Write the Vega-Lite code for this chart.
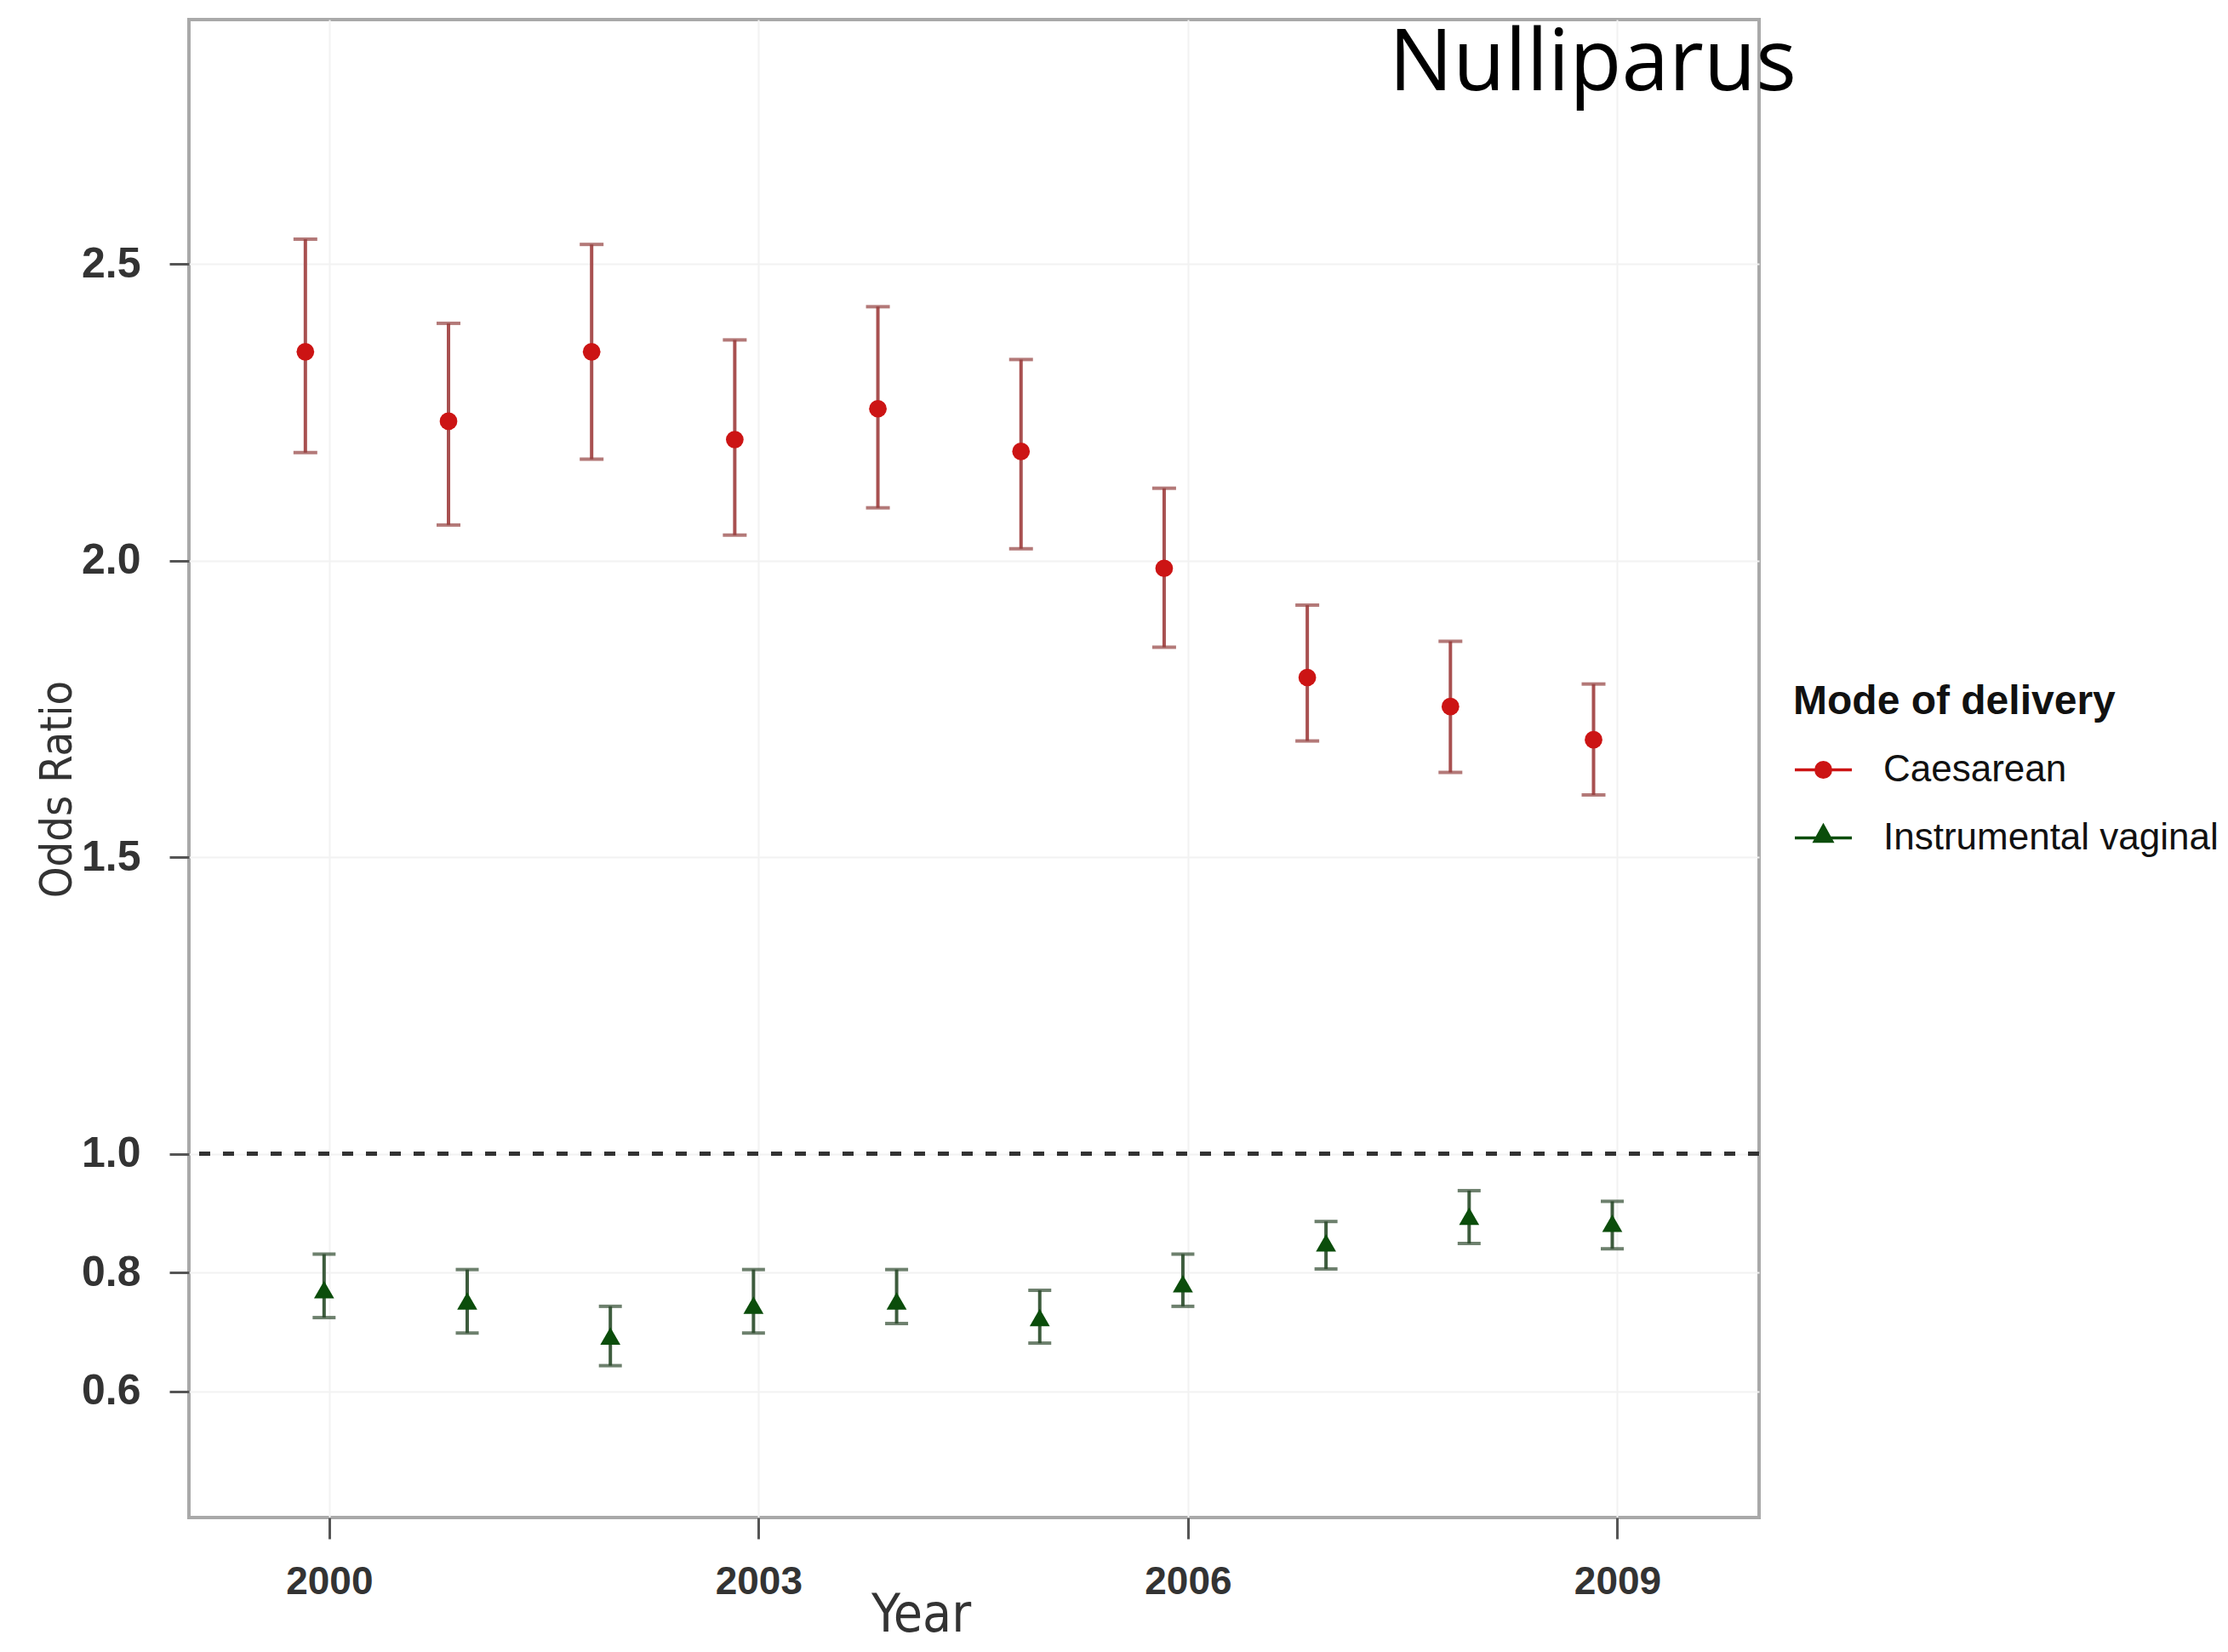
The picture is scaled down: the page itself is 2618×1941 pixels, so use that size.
{
  "$schema": "https://vega.github.io/schema/vega-lite/v6.json",
  "autosize": {"type": "none"},
  "width": 1845,
  "height": 1760,
  "padding": {"left": 222, "top": 23, "right": 551, "bottom": 158},
  "background": "white",
  "title": {"text": "Nulliparus", "anchor": "start", "frame": "group", "dx": 1410, "dy": 183, "offset": 0, "baseline": "alphabetic", "font": "Open Sans", "fontSize": 100, "fontWeight": "normal", "color": "#000000"},
  "config": {
    "view": {"stroke": "#a9a9a9", "strokeWidth": 4},
    "axis": {"domain": false, "grid": true, "gridColor": "#f2f2f2", "gridWidth": 2, "tickColor": "#555555", "tickWidth": 3}
  },
  "data": {"values": [
    {"year": 2000, "series": "Caesarean", "or": 2.352, "lo": 2.182, "hi": 2.542},
    {"year": 2001, "series": "Caesarean", "or": 2.235, "lo": 2.060, "hi": 2.400},
    {"year": 2002, "series": "Caesarean", "or": 2.352, "lo": 2.171, "hi": 2.533},
    {"year": 2003, "series": "Caesarean", "or": 2.204, "lo": 2.043, "hi": 2.372},
    {"year": 2004, "series": "Caesarean", "or": 2.256, "lo": 2.089, "hi": 2.428},
    {"year": 2005, "series": "Caesarean", "or": 2.184, "lo": 2.020, "hi": 2.339},
    {"year": 2006, "series": "Caesarean", "or": 1.987, "lo": 1.854, "hi": 2.122},
    {"year": 2007, "series": "Caesarean", "or": 1.803, "lo": 1.696, "hi": 1.925},
    {"year": 2008, "series": "Caesarean", "or": 1.754, "lo": 1.643, "hi": 1.864},
    {"year": 2009, "series": "Caesarean", "or": 1.698, "lo": 1.605, "hi": 1.792},
    {"year": 2000, "series": "Instrumental vaginal", "or": 0.771, "lo": 0.724, "hi": 0.831},
    {"year": 2001, "series": "Instrumental vaginal", "or": 0.752, "lo": 0.698, "hi": 0.805},
    {"year": 2002, "series": "Instrumental vaginal", "or": 0.693, "lo": 0.643, "hi": 0.743},
    {"year": 2003, "series": "Instrumental vaginal", "or": 0.745, "lo": 0.698, "hi": 0.805},
    {"year": 2004, "series": "Instrumental vaginal", "or": 0.752, "lo": 0.714, "hi": 0.805},
    {"year": 2005, "series": "Instrumental vaginal", "or": 0.724, "lo": 0.681, "hi": 0.770},
    {"year": 2006, "series": "Instrumental vaginal", "or": 0.781, "lo": 0.743, "hi": 0.831},
    {"year": 2007, "series": "Instrumental vaginal", "or": 0.850, "lo": 0.806, "hi": 0.886},
    {"year": 2008, "series": "Instrumental vaginal", "or": 0.895, "lo": 0.849, "hi": 0.938},
    {"year": 2009, "series": "Instrumental vaginal", "or": 0.883, "lo": 0.840, "hi": 0.920}
  ]},
  "encoding": {
    "x": {"field": "year", "type": "quantitative",
      "scale": {"domain": [1999.02, 2009.99], "nice": false, "zero": false},
      "axis": {"title": "Year", "values": [2000, 2003, 2006, 2009], "format": "d", "tickSize": 25,
        "labelFont": "Liberation Sans", "labelFontWeight": "bold", "labelFontSize": 46, "labelColor": "#333333", "labelBaseline": "middle", "labelPadding": 50,
        "titleFont": "Liberation Sans Narrow, DejaVu Sans Condensed, Liberation Sans", "titleFontWeight": "normal", "titleFontSize": 62, "titleColor": "#333333", "titleX": 860, "titleY": 114, "titleBaseline": "middle", "titleAlign": "center"}}
  },
  "layer": [
    {
      "transform": [{"filter": "datum.series === 'Caesarean'"}],
      "mark": {"type": "rule", "color": "#a85050", "strokeWidth": 4, "xOffset": -28},
      "encoding": {
        "y": {"field": "lo", "type": "quantitative",
          "scale": {"domain": [0.387, 2.912], "nice": false, "zero": false},
          "axis": {"title": "Odds Ratio", "values": [0.6, 0.8, 1.0, 1.5, 2.0, 2.5], "format": ".1f", "tickSize": 23,
            "labelFont": "Liberation Sans", "labelFontWeight": "bold", "labelFontSize": 50, "labelColor": "#333333", "labelBaseline": "middle", "labelPadding": 34,
            "titleFont": "Liberation Sans Narrow, DejaVu Sans Condensed, Liberation Sans", "titleFontWeight": "normal", "titleFontSize": 52, "titleColor": "#333333", "titleX": -155, "titleY": 904, "titleAngle": -90, "titleBaseline": "middle", "titleAlign": "center"}},
        "y2": {"field": "hi"}
      }
    },
    {
      "transform": [{"filter": "datum.series === 'Caesarean'"}],
      "mark": {"type": "tick", "orient": "horizontal", "color": "#93403f", "size": 28, "thickness": 4, "xOffset": -28},
      "encoding": {"y": {"field": "lo", "type": "quantitative", "scale": {"domain": [0.387, 2.912], "nice": false, "zero": false}}}
    },
    {
      "transform": [{"filter": "datum.series === 'Caesarean'"}],
      "mark": {"type": "tick", "orient": "horizontal", "color": "#93403f", "size": 28, "thickness": 4, "xOffset": -28},
      "encoding": {"y": {"field": "hi", "type": "quantitative", "scale": {"domain": [0.387, 2.912], "nice": false, "zero": false}}}
    },
    {
      "transform": [{"filter": "datum.series === 'Caesarean'"}],
      "mark": {"type": "point", "shape": "circle", "filled": true, "color": "#cc1414", "opacity": 1, "size": 430, "xOffset": -28},
      "encoding": {"y": {"field": "or", "type": "quantitative", "scale": {"domain": [0.387, 2.912], "nice": false, "zero": false}}}
    },
    {
      "transform": [{"filter": "datum.series === 'Instrumental vaginal'"}],
      "mark": {"type": "rule", "color": "#3d5c3d", "strokeWidth": 4, "xOffset": -6},
      "encoding": {
        "y": {"field": "lo", "type": "quantitative", "scale": {"domain": [0.387, 2.912], "nice": false, "zero": false}},
        "y2": {"field": "hi"}
      }
    },
    {
      "transform": [{"filter": "datum.series === 'Instrumental vaginal'"}],
      "mark": {"type": "tick", "orient": "horizontal", "color": "#2f4a2f", "size": 27, "thickness": 4, "xOffset": -6},
      "encoding": {"y": {"field": "lo", "type": "quantitative", "scale": {"domain": [0.387, 2.912], "nice": false, "zero": false}}}
    },
    {
      "transform": [{"filter": "datum.series === 'Instrumental vaginal'"}],
      "mark": {"type": "tick", "orient": "horizontal", "color": "#2f4a2f", "size": 27, "thickness": 4, "xOffset": -6},
      "encoding": {"y": {"field": "hi", "type": "quantitative", "scale": {"domain": [0.387, 2.912], "nice": false, "zero": false}}}
    },
    {
      "transform": [{"filter": "datum.series === 'Instrumental vaginal'"}],
      "mark": {"type": "point", "shape": "triangle-up", "filled": true, "color": "#0b4d0b", "opacity": 1, "size": 560, "xOffset": -6},
      "encoding": {"y": {"field": "or", "type": "quantitative", "scale": {"domain": [0.387, 2.912], "nice": false, "zero": false}}}
    },
    {
      "mark": {"type": "rule", "color": "#333333", "strokeWidth": 4, "strokeDash": [13, 15]},
      "encoding": {"y": {"datum": 1}, "x": null}
    },
    {
      "transform": [{"filter": "false"}],
      "mark": {"type": "point", "filled": false, "opacity": 1, "strokeWidth": 3.5},
      "encoding": {
        "y": {"field": "or", "type": "quantitative", "scale": {"domain": [0.387, 2.912], "nice": false, "zero": false}},
        "shape": {"field": "series", "type": "nominal", "legend": null,
          "scale": {"domain": ["Caesarean", "Instrumental vaginal"],
            "range": [
              "M-1,0L1,0M0.26,0A0.26,0.26,0,1,1,-0.26,0A0.26,0.26,0,1,1,0.26,0ZM-0.2,-0.19L0.2,-0.19M-0.26,-0.1L0.26,-0.1M-0.26,0.1L0.26,0.1M-0.2,0.19L0.2,0.19",
              "M-1,0L1,0M0,-0.42L0.3,0.12L-0.3,0.12ZM-0.07,-0.3L0.07,-0.3M-0.12,-0.2L0.12,-0.2M-0.18,-0.1L0.18,-0.1M-0.26,0.06L0.26,0.06"
            ]}},
        "color": {"field": "series", "type": "nominal",
          "scale": {"domain": ["Caesarean", "Instrumental vaginal"], "range": ["#cc1414", "#0b4d0b"]},
          "legend": {"title": "Mode of delivery", "orient": "none", "legendX": 1885, "legendY": 778, "padding": 0,
            "titleFont": "Liberation Sans", "titleFontWeight": "bold", "titleFontSize": 48, "titleColor": "#111111", "titlePadding": 20, "titleLimit": 1000,
            "labelFont": "Liberation Sans", "labelFontSize": 44, "labelColor": "#111111", "labelOffset": 35, "labelLimit": 1000,
            "symbolSize": 4489, "symbolStrokeWidth": 3.5, "rowPadding": 22,
            "encode": {"symbols": {"update": {
              "shape": {"scale": "shape", "field": "value"},
              "strokeWidth": {"value": 3.5},
              "opacity": {"value": 1}
            }}}}
        }
      }
    }
  ]
}
